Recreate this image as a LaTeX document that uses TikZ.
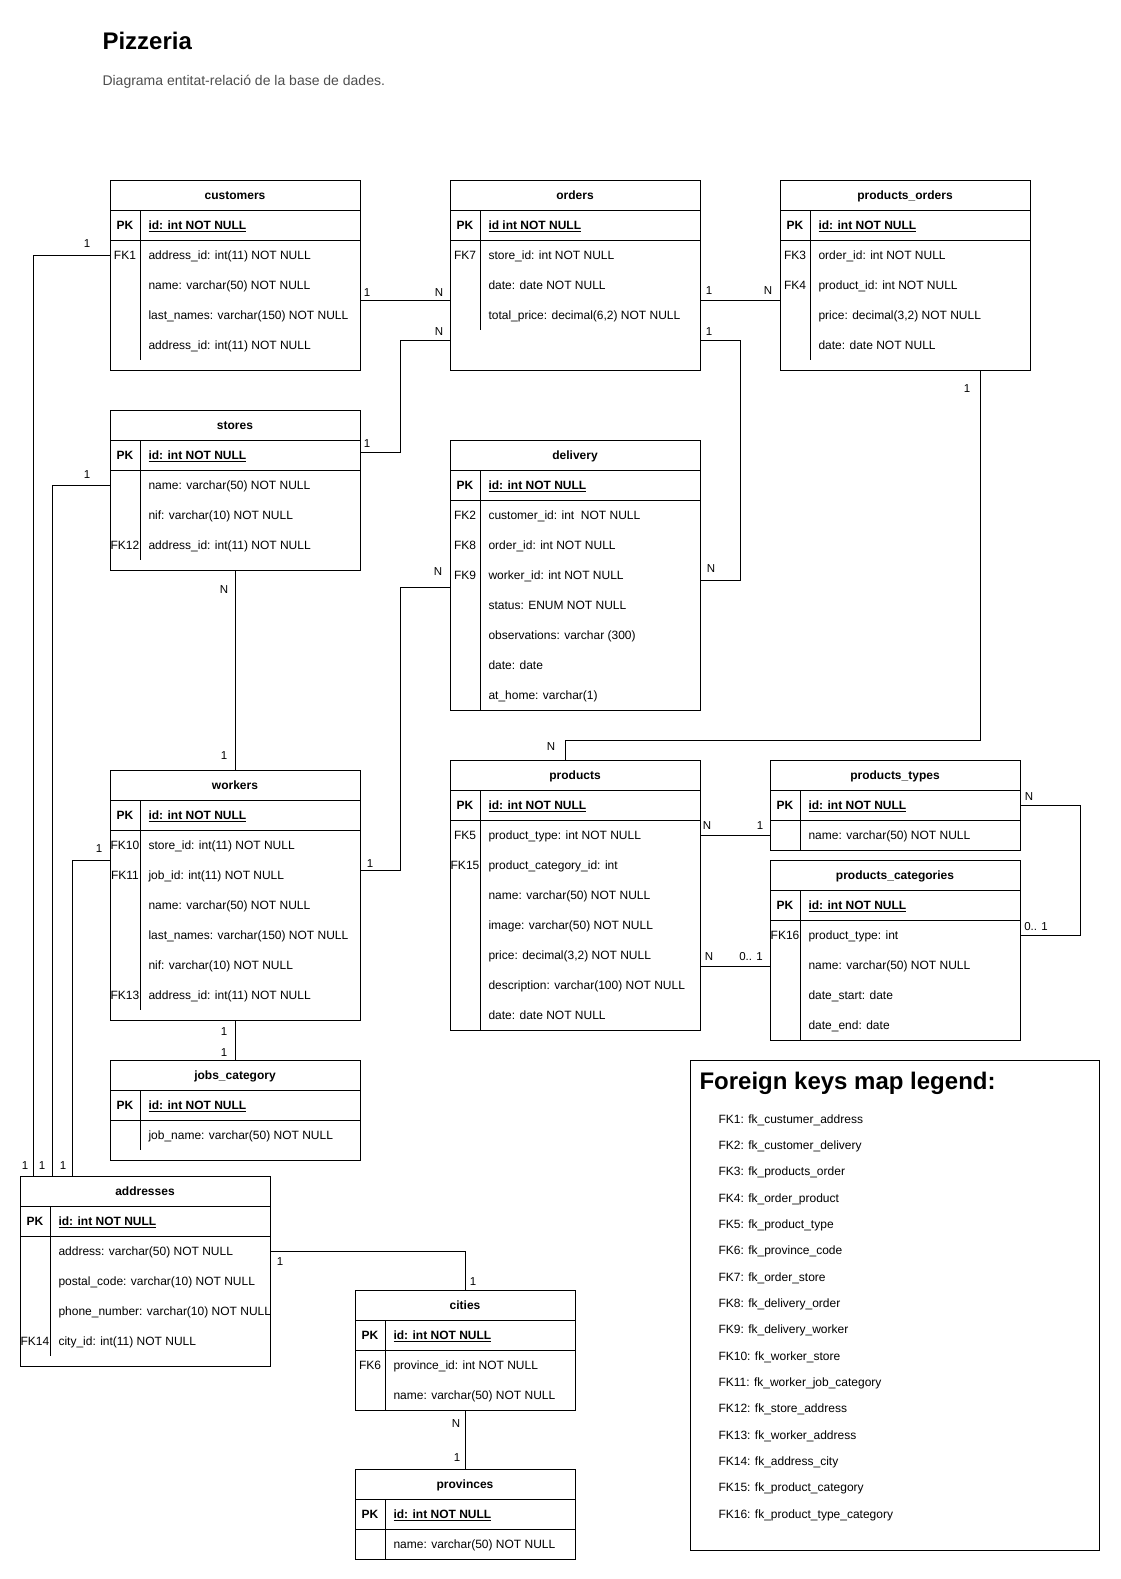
\documentclass[tikz,border=0pt]{standalone}
\usepackage{fontspec}
\setmainfont{Liberation Sans}
\usepackage{tikz}
\usepackage{xcolor}
\definecolor{subgray}{HTML}{4D4D4D}

\begin{document}
\begin{tikzpicture}[x=1pt,y=-1pt,line width=1pt,
    tbl/.style={draw,anchor=north west,minimum width=250pt,inner sep=0pt,outer sep=0pt},
    txt/.style={font=\fontsize{12}{14}\selectfont,inner sep=0pt,text height=8.6pt,text depth=0pt},
    head/.style={txt,font=\fontsize{12}{14}\selectfont\bfseries},
    key/.style={txt},
    pkey/.style={txt,font=\fontsize{12}{14}\selectfont\bfseries},
    field/.style={txt,anchor=west},
    pk/.style={field,font=\fontsize{12}{14}\selectfont\bfseries},
    card/.style={font=\fontsize{11.5}{13}\selectfont,inner sep=0pt,text height=8.3pt,text depth=0pt},
    big/.style={anchor=base west,inner sep=0pt,font=\fontsize{24}{28}\selectfont\bfseries}]
  \useasboundingbox (0,0) rectangle (1121,1579);

  \node (title) [big] at (102,49) {Pizzeria};
  \node (subtitle) [anchor=base west,inner sep=0pt,font=\fontsize{14}{17}\selectfont,text=subgray]
    at (102,85) {Diagrama entitat-relació de la base de dades.};

  % customers
  \node (cust) [tbl,minimum height=190pt] at (110,180) {};
  \draw (cust.north west) ++(0,30) -- ++(250,0) ++(-250,30) -- ++(250,0)
    (cust.north west) ++(30,30) -- ++(0,150);
  \path (cust.north) ++(0,15) node (custh) [head] {customers}
    (cust.north west) ++(15,45) node (custk0) [pkey] {PK}
    ++(0,30) node (custk1) [key] {FK1}
    (cust.north west) ++(38,45) node (custf0) [pk] {\underline{id: int NOT NULL}}
    ++(0,30) node (custf1) [field] {address\_id: int(11) NOT NULL}
    ++(0,30) node (custf2) [field] {name: varchar(50) NOT NULL}
    ++(0,30) node (custf3) [field] {last\_names: varchar(150) NOT NULL}
    ++(0,30) node (custf4) [field] {address\_id: int(11) NOT NULL};

  % orders
  \node (ord) [tbl,minimum height=190pt] at (450,180) {};
  \draw (ord.north west) ++(0,30) -- ++(250,0) ++(-250,30) -- ++(250,0)
    (ord.north west) ++(30,30) -- ++(0,120);
  \path (ord.north) ++(0,15) node (ordh) [head] {orders}
    (ord.north west) ++(15,45) node (ordk0) [pkey] {PK}
    ++(0,30) node (ordk1) [key] {FK7}
    (ord.north west) ++(38,45) node (ordf0) [pk] {\underline{id int NOT NULL}}
    ++(0,30) node (ordf1) [field] {store\_id: int NOT NULL}
    ++(0,30) node (ordf2) [field] {date: date NOT NULL}
    ++(0,30) node (ordf3) [field] {total\_price: decimal(6,2) NOT NULL};

  % products_orders
  \node (pord) [tbl,minimum height=190pt] at (780,180) {};
  \draw (pord.north west) ++(0,30) -- ++(250,0) ++(-250,30) -- ++(250,0)
    (pord.north west) ++(30,30) -- ++(0,150);
  \path (pord.north) ++(0,15) node (pordh) [head] {products\_orders}
    (pord.north west) ++(15,45) node (pordk0) [pkey] {PK}
    ++(0,30) node (pordk1) [key] {FK3}
    ++(0,30) node (pordk2) [key] {FK4}
    (pord.north west) ++(38,45) node (pordf0) [pk] {\underline{id: int NOT NULL}}
    ++(0,30) node (pordf1) [field] {order\_id: int NOT NULL}
    ++(0,30) node (pordf2) [field] {product\_id: int NOT NULL}
    ++(0,30) node (pordf3) [field] {price: decimal(3,2) NOT NULL}
    ++(0,30) node (pordf4) [field] {date: date NOT NULL};

  % stores
  \node (sto) [tbl,minimum height=160pt] at (110,410) {};
  \draw (sto.north west) ++(0,30) -- ++(250,0) ++(-250,30) -- ++(250,0)
    (sto.north west) ++(30,30) -- ++(0,120);
  \path (sto.north) ++(0,15) node (stoh) [head] {stores}
    (sto.north west) ++(15,45) node (stok0) [pkey] {PK}
    ++(0,90) node (stok3) [key] {FK12}
    (sto.north west) ++(38,45) node (stof0) [pk] {\underline{id: int NOT NULL}}
    ++(0,30) node (stof1) [field] {name: varchar(50) NOT NULL}
    ++(0,30) node (stof2) [field] {nif: varchar(10) NOT NULL}
    ++(0,30) node (stof3) [field] {address\_id: int(11) NOT NULL};

  % delivery
  \node (del) [tbl,minimum height=270pt] at (450,440) {};
  \draw (del.north west) ++(0,30) -- ++(250,0) ++(-250,30) -- ++(250,0)
    (del.north west) ++(30,30) -- ++(0,240);
  \path (del.north) ++(0,15) node (delh) [head] {delivery}
    (del.north west) ++(15,45) node (delk0) [pkey] {PK}
    ++(0,30) node (delk1) [key] {FK2}
    ++(0,30) node (delk2) [key] {FK8}
    ++(0,30) node (delk3) [key] {FK9}
    (del.north west) ++(38,45) node (delf0) [pk] {\underline{id: int NOT NULL}}
    ++(0,30) node (delf1) [field] {customer\_id: int\ \ NOT NULL}
    ++(0,30) node (delf2) [field] {order\_id: int NOT NULL}
    ++(0,30) node (delf3) [field] {worker\_id: int NOT NULL}
    ++(0,30) node (delf4) [field] {status: ENUM NOT NULL}
    ++(0,30) node (delf5) [field] {observations: varchar (300)}
    ++(0,30) node (delf6) [field] {date: date}
    ++(0,30) node (delf7) [field] {at\_home: varchar(1)};

  % workers
  \node (wrk) [tbl,minimum height=250pt] at (110,770) {};
  \draw (wrk.north west) ++(0,30) -- ++(250,0) ++(-250,30) -- ++(250,0)
    (wrk.north west) ++(30,30) -- ++(0,210);
  \path (wrk.north) ++(0,15) node (wrkh) [head] {workers}
    (wrk.north west) ++(15,45) node (wrkk0) [pkey] {PK}
    ++(0,30) node (wrkk1) [key] {FK10}
    ++(0,30) node (wrkk2) [key] {FK11}
    ++(0,120) node (wrkk6) [key] {FK13}
    (wrk.north west) ++(38,45) node (wrkf0) [pk] {\underline{id: int NOT NULL}}
    ++(0,30) node (wrkf1) [field] {store\_id: int(11) NOT NULL}
    ++(0,30) node (wrkf2) [field] {job\_id: int(11) NOT NULL}
    ++(0,30) node (wrkf3) [field] {name: varchar(50) NOT NULL}
    ++(0,30) node (wrkf4) [field] {last\_names: varchar(150) NOT NULL}
    ++(0,30) node (wrkf5) [field] {nif: varchar(10) NOT NULL}
    ++(0,30) node (wrkf6) [field] {address\_id: int(11) NOT NULL};

  % jobs_category
  \node (job) [tbl,minimum height=100pt] at (110,1060) {};
  \draw (job.north west) ++(0,30) -- ++(250,0) ++(-250,30) -- ++(250,0)
    (job.north west) ++(30,30) -- ++(0,60);
  \path (job.north) ++(0,15) node (jobh) [head] {jobs\_category}
    (job.north west) ++(15,45) node (jobk0) [pkey] {PK}
    (job.north west) ++(38,45) node (jobf0) [pk] {\underline{id: int NOT NULL}}
    ++(0,30) node (jobf1) [field] {job\_name: varchar(50) NOT NULL};

  % products
  \node (prod) [tbl,minimum height=270pt] at (450,760) {};
  \draw (prod.north west) ++(0,30) -- ++(250,0) ++(-250,30) -- ++(250,0)
    (prod.north west) ++(30,30) -- ++(0,240);
  \path (prod.north) ++(0,15) node (prodh) [head] {products}
    (prod.north west) ++(15,45) node (prodk0) [pkey] {PK}
    ++(0,30) node (prodk1) [key] {FK5}
    ++(0,30) node (prodk2) [key] {FK15}
    (prod.north west) ++(38,45) node (prodf0) [pk] {\underline{id: int NOT NULL}}
    ++(0,30) node (prodf1) [field] {product\_type: int NOT NULL}
    ++(0,30) node (prodf2) [field] {product\_category\_id: int}
    ++(0,30) node (prodf3) [field] {name: varchar(50) NOT NULL}
    ++(0,30) node (prodf4) [field] {image: varchar(50) NOT NULL}
    ++(0,30) node (prodf5) [field] {price: decimal(3,2) NOT NULL}
    ++(0,30) node (prodf6) [field] {description: varchar(100) NOT NULL}
    ++(0,30) node (prodf7) [field] {date: date NOT NULL};

  % products_types
  \node (ptyp) [tbl,minimum height=90pt] at (770,760) {};
  \draw (ptyp.north west) ++(0,30) -- ++(250,0) ++(-250,30) -- ++(250,0)
    (ptyp.north west) ++(30,30) -- ++(0,60);
  \path (ptyp.north) ++(0,15) node (ptyph) [head] {products\_types}
    (ptyp.north west) ++(15,45) node (ptypk0) [pkey] {PK}
    (ptyp.north west) ++(38,45) node (ptypf0) [pk] {\underline{id: int NOT NULL}}
    ++(0,30) node (ptypf1) [field] {name: varchar(50) NOT NULL};

  % products_categories
  \node (pcat) [tbl,minimum height=180pt] at (770,860) {};
  \draw (pcat.north west) ++(0,30) -- ++(250,0) ++(-250,30) -- ++(250,0)
    (pcat.north west) ++(30,30) -- ++(0,150);
  \path (pcat.north) ++(0,15) node (pcath) [head] {products\_categories}
    (pcat.north west) ++(15,45) node (pcatk0) [pkey] {PK}
    ++(0,30) node (pcatk1) [key] {FK16}
    (pcat.north west) ++(38,45) node (pcatf0) [pk] {\underline{id: int NOT NULL}}
    ++(0,30) node (pcatf1) [field] {product\_type: int}
    ++(0,30) node (pcatf2) [field] {name: varchar(50) NOT NULL}
    ++(0,30) node (pcatf3) [field] {date\_start: date}
    ++(0,30) node (pcatf4) [field] {date\_end: date};

  % addresses
  \node (addr) [tbl,minimum height=190pt] at (20,1176) {};
  \draw (addr.north west) ++(0,30) -- ++(250,0) ++(-250,30) -- ++(250,0)
    (addr.north west) ++(30,30) -- ++(0,150);
  \path (addr.north) ++(0,15) node (addrh) [head] {addresses}
    (addr.north west) ++(15,45) node (addrk0) [pkey] {PK}
    ++(0,120) node (addrk4) [key] {FK14}
    (addr.north west) ++(38,45) node (addrf0) [pk] {\underline{id: int NOT NULL}}
    ++(0,30) node (addrf1) [field] {address: varchar(50) NOT NULL}
    ++(0,30) node (addrf2) [field] {postal\_code: varchar(10) NOT NULL}
    ++(0,30) node (addrf3) [field] {phone\_number: varchar(10) NOT NULL}
    ++(0,30) node (addrf4) [field] {city\_id: int(11) NOT NULL};

  % cities
  \node (city) [tbl,minimum width=220pt,minimum height=120pt] at (355,1290) {};
  \draw (city.north west) ++(0,30) -- ++(220,0) ++(-220,30) -- ++(220,0)
    (city.north west) ++(30,30) -- ++(0,90);
  \path (city.north) ++(0,15) node (cityh) [head] {cities}
    (city.north west) ++(15,45) node (cityk0) [pkey] {PK}
    ++(0,30) node (cityk1) [key] {FK6}
    (city.north west) ++(38,45) node (cityf0) [pk] {\underline{id: int NOT NULL}}
    ++(0,30) node (cityf1) [field] {province\_id: int NOT NULL}
    ++(0,30) node (cityf2) [field] {name: varchar(50) NOT NULL};

  % provinces
  \node (prov) [tbl,minimum width=220pt,minimum height=90pt] at (355,1469) {};
  \draw (prov.north west) ++(0,30) -- ++(220,0) ++(-220,30) -- ++(220,0)
    (prov.north west) ++(30,30) -- ++(0,60);
  \path (prov.north) ++(0,15) node (provh) [head] {provinces}
    (prov.north west) ++(15,45) node (provk0) [pkey] {PK}
    (prov.north west) ++(38,45) node (provf0) [pk] {\underline{id: int NOT NULL}}
    ++(0,30) node (provf1) [field] {name: varchar(50) NOT NULL};

  % connector ends
  \path (cust.north east) +(0,120) coordinate (custo);
  \path (ord.north west) +(0,120) coordinate (ordc);
  \path (ord.north west) +(0,160) coordinate (ords);
  \path (ord.north east) +(0,120) coordinate (ordp);
  \path (ord.north east) +(0,160) coordinate (ordd);
  \path (pord.north west) +(0,120) coordinate (pordo);
  \path (pord.south west) +(200,0) coordinate (pordp);
  \path (sto.north east) +(0,42) coordinate (stoo);
  \path (del.north east) +(0,140) coordinate (delo);
  \path (del.north west) +(0,147) coordinate (delw);
  \path (wrk.north east) +(0,100) coordinate (wrkd);
  \path (wrk.north west) +(0,90) coordinate (wrka);
  \path (prod.north west) +(115,0) coordinate (prodi);
  \path (prodi) +(0,-20) coordinate (prodbend);
  \path (prod.north east) +(0,206) coordinate (prodc);
  \path (pcat.north west) +(0,106) coordinate (pcati);
  \path (addr.north west) +(13,0) coordinate (addrin1);
  \path (addr.north west) +(32,0) coordinate (addrin2);
  \path (addr.north west) +(52,0) coordinate (addrin3);

  \draw (cust.west |- custf1) -| (addrin1)
    (cust.west |- custf1) +(-23,-12) node (custaddr1) [card] {1}
    (addrin1) +(-8,-11) node (custaddr2) [card] {1};
  \draw (sto.west |- stof1) -| (addrin2)
    (sto.west |- stof1) +(-23,-11) node (stoaddr1) [card] {1}
    (addrin2) +(-10,-11) node (stoaddr2) [card] {1};
  \draw (wrka) -| (addrin3)
    (wrka) +(-11,-12) node (wrkaddr1) [card] {1}
    (addrin3) +(-9,-11) node (wrkaddr2) [card] {1};
  \draw (custo) -- (ordc)
    (custo) +(7,-8) node (custord1) [card] {1}
    (ordc) +(-11,-8) node (custord2) [card] {N};
  \draw (stoo) -- ++(40,0) |- (ords)
    (stoo) +(7,-9) node (stoord1) [card] {1}
    (ords) +(-11,-9) node (stoord2) [card] {N};
  \draw (ordp) -- (pordo)
    (ordp) +(9,-10) node (ordpord1) [card] {1}
    (pordo) +(-12,-10) node (ordpord2) [card] {N};
  \draw (ordd) -- ++(40,0) |- (delo)
    (ordd) +(9,-9) node (orddel1) [card] {1}
    (delo) +(11,-12) node (orddel2) [card] {N};
  \draw (pordp) |- (prodbend) -- (prodi)
    (pordp) +(-13,18) node (pordprod1) [card] {1}
    (prodi) +(-14,-14) node (pordprod2) [card] {N};
  \draw (sto.south) -- (wrk.north)
    (sto.south) +(-11,19) node (stowrk1) [card] {N}
    (wrk.north) +(-11,-15) node (stowrk2) [card] {1};
  \draw (delw) -- ++(-50,0) |- (wrkd)
    (delw) +(-12,-16) node (delwrk1) [card] {N}
    (wrkd) +(10,-7) node (delwrk2) [card] {1};
  \draw (wrk.south) -- (job.north)
    (wrk.south) +(-11,11) node (wrkjob1) [card] {1}
    (job.north) +(-11,-8) node (wrkjob2) [card] {1};
  \draw (prod.east |- prodf1) -- (ptyp.west |- ptypf1)
    (prod.east |- prodf1) +(7,-10) node (prodptyp1) [card] {N}
    (ptyp.west |- ptypf1) +(-10,-10) node (prodptyp2) [card] {1};
  \draw (prodc) -- (pcati)
    (prodc) +(9,-10) node (prodpcat1) [card] {N}
    (pcati) +(-19,-10) node (prodpcat2) [card] {0.. 1};
  \draw (ptyp.east |- ptypf0) -- ++(60,0) |- (pcat.east |- pcatf1)
    (ptyp.east |- ptypf0) +(9,-9) node (ptyppcat1) [card] {N}
    (pcat.east |- pcatf1) +(16,-9) node (ptyppcat2) [card] {0.. 1};
  \draw (addr.east |- addrf1) -| (city.north)
    (addr.east |- addrf1) +(10,10) node (addrcity1) [card] {1}
    (city.north) +(8,-9) node (addrcity2) [card] {1};
  \draw (city.south) -- (prov.north)
    (city.south) +(-9,13) node (cityprov1) [card] {N}
    (prov.north) +(-8,-12) node (cityprov2) [card] {1};

  % legend
  \node (legend) [tbl,minimum width=409pt,minimum height=490pt] at (690,1060) {};
  \path (legend.north west) ++(9,29) node (legendh) [big] {Foreign keys map legend:}
    (legend.north west) ++(28,58.7) node (fk1) [field] {FK1: fk\_custumer\_address}
    ++(0,26.35) node (fk2) [field] {FK2: fk\_customer\_delivery}
    ++(0,26.35) node (fk3) [field] {FK3: fk\_products\_order}
    ++(0,26.35) node (fk4) [field] {FK4: fk\_order\_product}
    ++(0,26.35) node (fk5) [field] {FK5: fk\_product\_type}
    ++(0,26.35) node (fk6) [field] {FK6: fk\_province\_code}
    ++(0,26.35) node (fk7) [field] {FK7: fk\_order\_store}
    ++(0,26.35) node (fk8) [field] {FK8: fk\_delivery\_order}
    ++(0,26.35) node (fk9) [field] {FK9: fk\_delivery\_worker}
    ++(0,26.35) node (fk10) [field] {FK10: fk\_worker\_store}
    ++(0,26.35) node (fk11) [field] {FK11: fk\_worker\_job\_category}
    ++(0,26.35) node (fk12) [field] {FK12: fk\_store\_address}
    ++(0,26.35) node (fk13) [field] {FK13: fk\_worker\_address}
    ++(0,26.35) node (fk14) [field] {FK14: fk\_address\_city}
    ++(0,26.35) node (fk15) [field] {FK15: fk\_product\_category}
    ++(0,26.35) node (fk16) [field] {FK16: fk\_product\_type\_category};
\end{tikzpicture}
\end{document}
